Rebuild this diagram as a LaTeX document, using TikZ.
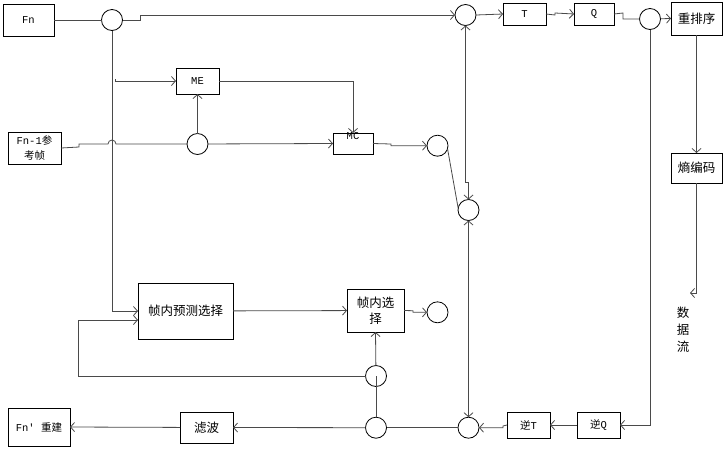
\documentclass[tikz,border=0pt]{standalone}
\usepackage{fontspec}
\setmonofont{Liberation Mono}
\newfontfamily\cjk{Noto Sans CJK SC}
\usetikzlibrary{arrows.meta,positioning,calc}
\definecolor{linegray}{HTML}{4A4A4A}

\begin{document}
\begin{tikzpicture}[
  x=1pt, y=-1pt,
  font=\ttfamily\fontsize{10.5}{12}\selectfont,
  box/.style={draw, line width=0.8pt, inner sep=0pt, outer sep=0pt, align=center},
  sum/.style={draw, circle, line width=0.8pt, minimum size=21pt, inner sep=0pt, outer sep=0pt},
  zh/.style={font=\cjk\fontsize{12.5}{16}\selectfont},
  arr/.style={-{Straight Barb[length=4pt,width=9pt]}, line width=0.8pt, draw=linegray},
  dbl/.style={{Straight Barb[length=4pt,width=9pt]}-{Straight Barb[length=4pt,width=9pt]}, line width=0.8pt, draw=linegray},
  wire/.style={line width=0.8pt, draw=linegray},
]
  \useasboundingbox (0,0) rectangle (725,448);

  % Inputs
  \node[box, minimum width=51pt, minimum height=32pt] (fn) at (28.5,20) {Fn};
  \node[box, minimum width=53pt, minimum height=32pt, font=\ttfamily\fontsize{10.5}{15}\selectfont] (ref) at (34.5,148) {Fn-1{\cjk 参}\\{\cjk 考帧}};

  % Forward path
  \node[sum] (s1) at (112,20) {};
  \node[sum] (s2) at (465.5,15) {};
  \node[box, minimum width=43pt, minimum height=22pt] (tr) at (524.5,14) {T};
  \node[box, minimum width=40pt, minimum height=22pt] (qu) at (594,14) {Q};
  \node[sum] (s10) at (650,19) {};
  \node[box, zh, minimum width=51pt, minimum height=33pt] (reord) at (696.5,18.5) {重排序};
  \node[box, zh, minimum width=51pt, minimum height=30pt] (entr) at (696.5,168) {熵编码};
  \node[align=center, font=\cjk\fontsize{12.5}{17}\selectfont] (stream) at (683,330) {数\\据\\流};
  \coordinate (out) at (690,293);

  % Inter prediction
  \node[box, minimum width=43pt, minimum height=26pt] (me) at (197.5,81) {ME};
  \node[box, minimum width=40pt, minimum height=21pt] (mc) at (353,143.5) {};
  \node (mclabel) at (353,136) {MC};
  \node[sum] (s3) at (197.5,144) {};
  \node[sum] (s4) at (437.5,145.7) {};
  \node[sum] (s5) at (468.5,210) {};

  % Intra prediction
  \node[box, zh, minimum width=95pt, minimum height=56pt] (pred) at (185.5,311) {帧内预测选择};
  \node[box, zh, minimum width=57pt, minimum height=43pt] (sel) at (375.5,310.5) {帧内选\\择};
  \node[sum] (s6) at (437.5,312.3) {};
  \node[sum] (s7) at (376,376) {};

  % Reconstruction
  \node[sum] (s9) at (376,427.7) {};
  \node[sum] (s8) at (468.5,427.7) {};
  \node[box, minimum width=43pt, minimum height=26pt] (itr) at (528.5,425) {{\cjk 逆}T};
  \node[box, minimum width=43pt, minimum height=26pt] (iqu) at (598.5,425) {{\cjk 逆}Q};
  \node[box, zh, minimum width=53pt, minimum height=31pt] (filt) at (206.5,427.5) {滤波};
  \node[box, minimum width=62pt, minimum height=38pt] (rec) at (39,427) {Fn' {\cjk 重建}};

  \draw[wire] (fn) -- (s1);
  \draw[arr] (s1.east) -- (140,20) -- (140,15) -- (s2.west);
  \draw[arr] (s1.south) |- (pred.west);
  \draw[arr] (115,79) |- (me.west);
  \draw[arr] (me.east) -| (mc.north);
  \draw[wire] (ref.east) -- (79,147) -- (79,144) -- (108,144)
    arc[start angle=180, end angle=0, radius=4pt] -- (s3.west);
  \draw[arr] (s3) -- (mc.west);
  \draw[arr] (s3) -- (me.south);
  \draw[arr] (mc.east) -- (391,144) -- (391,145.7) -- (s4.west);
  \draw[wire] (s4.-17) -- (s5.170);
  \draw[dbl] (s2.south) -- (465.5,182) -| (s5.north);
  \draw[dbl] (s5.south) -- (s8.north);

  \draw[arr] (s2.east) -- (tr.west);
  \draw[arr] (tr.east) -- (555,15) -- (555,13) -- (qu.west);
  \draw[wire] (qu.east) -- (623,13) -- (623,19) -- (s10.west);
  \draw[arr] (s10) -- (reord.west);
  \draw[arr] (reord) -- (entr);
  \draw[arr] (entr.south) |- (out);
  \draw[arr] (s10.south) |- (iqu.east);
  \draw[arr] (iqu) -- (itr);
  \draw[arr] (itr.west) -- (503,426) -- (503,427.7) -- (s8.east);

  \draw[arr] (pred) -- (sel);
  \draw[arr] (sel.east) -- (413,310.7) -- (413,312.3) -- (s6.west);
  \draw[arr] (s7) -- (sel.south);
  \draw[arr] (s7.west) -- (78,376) |- ([yshift=-9pt]pred.west);
  \draw[wire] (s9.north) -- (s7.center);
  \draw[wire] (s8) -- (s9);
  \draw[arr] (s9) -- (filt.east);
  \draw[arr] (filt) -- (rec.east);
\end{tikzpicture}
\end{document}
